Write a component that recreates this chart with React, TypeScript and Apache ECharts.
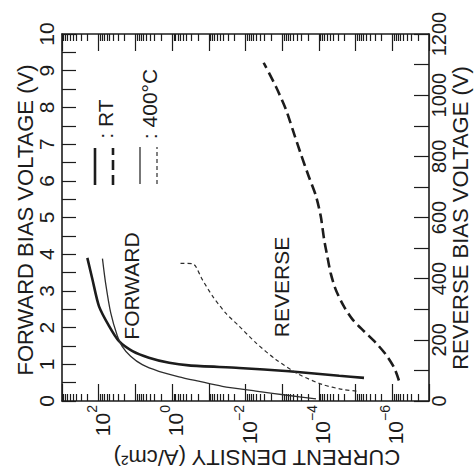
import React, { useEffect, useRef } from 'react';
import * as echarts from 'echarts';

// Current density J (A/cm²) against bias voltage, read as [J, V] pairs.
const rtForward: [number, number][] = [
  [204, 3.9], [148, 3.31], [98, 2.58], [52, 2.04], [28, 1.63], [12, 1.36],
  [4.3, 1.18], [1.2, 1.04], [0.35, 0.97], [1.5e-2, 0.9], [6.5e-4, 0.81],
  [2.8e-5, 0.69], [5.9e-6, 0.63],
];
const hotForward: [number, number][] = [
  [79, 3.88], [65, 3.22], [47, 2.4], [31, 1.77], [23, 1.49], [13.5, 1.22],
  [6.5, 0.99], [2.3, 0.81], [0.65, 0.66], [0.19, 0.54], [4.3e-2, 0.4],
  [5.2e-3, 0.27], [6.5e-4, 0.15], [1.2e-4, 0.06],
];
const rtReverse: [number, number][] = [
  [6.6e-7, 67], [8.9e-7, 109], [1.5e-6, 152], [2.8e-6, 190], [5.9e-6, 228],
  [1.2e-5, 266], [2.1e-5, 310], [3.5e-5, 365], [4.8e-5, 419], [5.9e-5, 473],
  [7.2e-5, 528], [8.9e-5, 604], [1.2e-4, 670], [1.9e-4, 735], [3.2e-4, 812],
  [5.2e-4, 888], [7.9e-4, 953], [1.5e-3, 1029], [3.2e-3, 1106],
];
const hotReverse: [number, number][] = [
  [0.59, 450], [0.28, 449], [0.23, 441], [0.15, 397], [7.9e-2, 343],
  [3.5e-2, 288], [1.5e-2, 245], [5.2e-3, 190], [1.5e-3, 136], [3.5e-4, 87],
  [8.1e-5, 54], [2.3e-5, 38], [8.9e-6, 32],
];

// Axis ranges and labelled ticks
const currentMin = 1e-7;
const currentMax = 1e3;
const currentLabels = [1e2, 1e0, 1e-2, 1e-4, 1e-6];
const forwardMax = 10;
const reverseMax = 1200;

const INK = '#1c1c1c';
const THIN = '#2e2e2e';
const FONT = '"Liberation Sans", Arial, Helvetica, sans-serif';

const decades: number[] = [];
const minors: number[] = [];
for (let n = -7; n <= 3; n++) {
  decades.push(Math.pow(10, n));
  if (n < 3) for (let k = 2; k <= 9; k++) minors.push(k * Math.pow(10, n));
}

const supText = (v: number) => {
  const e = Math.round(Math.log10(v));
  const s = e < 0 ? '\u2212' + -e : String(e);
  return `{b|10}{s|${s}}`;
};

const logAxisBase = {
  type: 'log',
  logBase: 10,
  min: currentMin,
  max: currentMax,
  inverse: true,
  gridIndex: 0,
  splitLine: { show: false },
  axisLabel: { show: false },
  axisLine: { show: false, onZero: false },
};

const rotatedText = (text: string, x: number, y: number, size: number, angle = Math.PI / 2) => ({
  type: 'text',
  x,
  y,
  rotation: angle,
  style: { text, fontSize: size, fontFamily: FONT, fill: INK, align: 'center', verticalAlign: 'middle' },
});

export default function App() {
  const ref = useRef<HTMLDivElement>(null);

  useEffect(() => {
    if (!ref.current) return;
    const chart = echarts.init(ref.current, undefined, { renderer: 'svg' });
    const tickStyle = { color: INK, width: 1.2 };
    const frame = { color: INK, width: 1.6 };
    const option: any = {
      animation: false,
      backgroundColor: '#ffffff',
      grid: {
        left: 62, top: 34, width: 367, height: 367,
        containLabel: false, outerBoundsMode: 'none',
      },
      xAxis: [
        {
          ...logAxisBase,
          position: 'bottom',
          axisLine: { show: true, onZero: false, lineStyle: frame },
          axisTick: { show: true, inside: true, length: 17, customValues: decades, lineStyle: tickStyle },
          axisLabel: {
            show: true,
            customValues: currentLabels,
            rotate: 90,
            margin: 4,
            formatter: supText,
            rich: {
              b: { fontSize: 21, fontFamily: FONT, color: INK, verticalAlign: 'bottom', lineHeight: 28 },
              s: { fontSize: 14, fontFamily: FONT, color: INK, verticalAlign: 'top', lineHeight: 16 },
            },
          },
        },
        {
          ...logAxisBase,
          position: 'bottom',
          axisTick: { show: true, inside: true, length: 7, customValues: minors, lineStyle: tickStyle },
        },
        {
          ...logAxisBase,
          position: 'top',
          axisLine: { show: true, onZero: false, lineStyle: frame },
          axisTick: { show: true, inside: true, length: 17, customValues: decades, lineStyle: tickStyle },
        },
        {
          ...logAxisBase,
          position: 'top',
          axisTick: { show: true, inside: true, length: 7, customValues: minors, lineStyle: tickStyle },
        },
      ],
      yAxis: [
        {
          type: 'value',
          position: 'left',
          min: 0,
          max: forwardMax,
          interval: 0.5,
          splitLine: { show: false },
          axisLine: { show: true, onZero: false, lineStyle: frame },
          axisTick: { show: true, inside: true, length: 14, lineStyle: tickStyle },
          axisLabel: {
            rotate: 90,
            margin: 5,
            fontSize: 21,
            fontFamily: FONT,
            color: INK,
            formatter: (v: number) => (Number.isInteger(v) ? String(v) : ''),
          },
        },
        {
          type: 'value',
          position: 'right',
          min: 0,
          max: reverseMax,
          interval: 100,
          splitLine: { show: false },
          axisLine: { show: true, onZero: false, lineStyle: frame },
          axisTick: { show: true, inside: true, length: 15, lineStyle: tickStyle },
          axisLabel: {
            rotate: 90,
            margin: 0,
            fontSize: 20,
            fontFamily: FONT,
            color: INK,
            formatter: (v: number) => (v % 200 === 0 ? String(v) : ''),
          },
        },
      ],
      series: [
        {
          name: 'RT forward', type: 'line', xAxisIndex: 0, yAxisIndex: 0,
          data: rtForward, symbol: 'none', smooth: 0.25,
          lineStyle: { color: INK, width: 2.6 },
        },
        {
          name: '400°C forward', type: 'line', xAxisIndex: 0, yAxisIndex: 0,
          data: hotForward, symbol: 'none', smooth: 0.25,
          lineStyle: { color: THIN, width: 1.3 },
        },
        {
          name: 'RT reverse', type: 'line', xAxisIndex: 0, yAxisIndex: 1,
          data: rtReverse, symbol: 'none', smooth: 0.25,
          lineStyle: { color: INK, width: 2.6, type: [10, 5] },
        },
        {
          name: '400°C reverse', type: 'line', xAxisIndex: 0, yAxisIndex: 1,
          data: hotReverse, symbol: 'none', smooth: 0.25,
          lineStyle: { color: THIN, width: 1.2, type: [4, 3] },
        },
      ],
      graphic: [
        rotatedText('FORWARD BIAS VOLTAGE (V)', 25, 220, 22),
        rotatedText('REVERSE BIAS VOLTAGE (V)', 460, 218, 22),
        rotatedText('CURRENT DENSITY (A/cm\u00b2)', 257, 457, 22, Math.PI),
        rotatedText('FORWARD', 131, 286, 21),
        rotatedText('REVERSE', 281, 287, 21),
        // legend keys
        { type: 'line', shape: { x1: 95, y1: 185, x2: 95, y2: 148 }, style: { stroke: INK, lineWidth: 2.6 } },
        { type: 'line', shape: { x1: 113, y1: 185, x2: 113, y2: 148 }, style: { stroke: INK, lineWidth: 2.6, lineDash: [10, 5] } },
        rotatedText(': RT', 105, 119, 21),
        { type: 'line', shape: { x1: 140, y1: 184, x2: 140, y2: 147 }, style: { stroke: THIN, lineWidth: 1.3 } },
        { type: 'line', shape: { x1: 157, y1: 184, x2: 157, y2: 147 }, style: { stroke: THIN, lineWidth: 1.2, lineDash: [4, 3] } },
        rotatedText(': 400°C', 149, 104, 21),
      ],
    };
    chart.setOption(option);
    return () => chart.dispose();
  }, []);

  return <div ref={ref} style={{ width: 475, height: 476, position: 'absolute', left: 0, top: 0 }} />;
}
